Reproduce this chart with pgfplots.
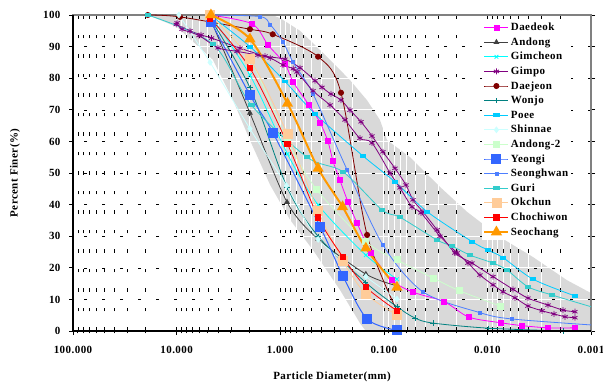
\documentclass[border=0pt]{standalone}
\usepackage{pgfplots}
\pgfplotsset{compat=1.18}
\usepackage{fontspec}
\setmainfont{Liberation Serif}[LetterSpace=4]
\definecolor{cDaedeok}{HTML}{FF00FF}
\definecolor{cAndong}{HTML}{404040}
\definecolor{cGimcheon}{HTML}{00FFFF}
\definecolor{cGimpo}{HTML}{800080}
\definecolor{cDaejeon}{HTML}{800000}
\definecolor{cWonjo}{HTML}{008080}
\definecolor{cPoee}{HTML}{00CCFF}
\definecolor{cShinnae}{HTML}{CCFFFF}
\definecolor{cAndongTwo}{HTML}{CCFFCC}
\definecolor{cYeongi}{HTML}{3366FF}
\definecolor{cSeonghwan}{HTML}{4D7FFF}
\definecolor{cGuri}{HTML}{33CCCC}
\definecolor{cOkchun}{HTML}{FFCC99}
\definecolor{cChochiwon}{HTML}{FF0000}
\definecolor{cSeochang}{HTML}{FF9900}
\definecolor{cBand}{HTML}{D9D9D9}
\begin{document}
\begin{tikzpicture}
\begin{axis}[
  set layers,
  scale only axis, width=518pt, height=316pt,
  xmode=log, x dir=reverse, xmin=0.001, xmax=100,
  ymin=0, ymax=100,
  xtick={100,10,1,0.1,0.01,0.001},
  xticklabels={100.000,10.000,1.000,0.100,0.010,0.001},
  minor xtick={0.002,0.003,0.004,0.005,0.006,0.007,0.008,0.009,0.02,0.03,0.04,0.05,0.06,0.07,0.08,0.09,0.2,0.3,0.4,0.5,0.6,0.7,0.8,0.9,2,3,4,5,6,7,8,9,20,30,40,50,60,70,80,90},
  ytick={0,10,20,30,40,50,60,70,80,90,100},
  yticklabels={0,10,20,30,40,50,60,70,80,90,100},
  xmajorgrids, xminorgrids, ymajorgrids,
  major grid style={white, line width=0.8pt},
  minor grid style={white, line width=0.6pt},
  extra x ticks={0.002,0.003,0.004,0.005,0.006,0.007,0.008,0.009,0.01,0.02,0.03,0.04,0.05,0.06,0.07,0.08,0.09,0.1,0.2,0.3,0.4,0.5,0.6,0.7,0.8,0.9,1,2,3,4,5,6,7,8,9,10,20,30,40,50,60,70,80,90},
  extra x tick labels={},
  extra x tick style={grid=major, major grid style={black, line width=0.45pt, dash pattern=on 3.5pt off 16pt}, major tick length=0pt},
  extra y ticks={10,20,30,40,50,60,70,80,90},
  extra y tick labels={},
  extra y tick style={grid=major, major grid style={black, line width=0.45pt, dash pattern=on 3pt off 15pt}, major tick length=0pt},
  axis line style={gray, line width=1.5pt},
  tick style={black, line width=0.6pt},
  major tick length=4pt, minor tick length=2.5pt,
  tick align=outside, xtick pos=bottom,
  tick label style={font=\bfseries\fontsize{11}{12}\selectfont},
  xticklabel style={yshift=-8pt},
  yticklabel style={xshift=-5pt},
  xlabel={Particle Diameter(mm)},
  ylabel={Percent Finer(\%)},
  every axis x label/.style={at={(axis description cs:0.5,-0.145)}, anchor=center, font=\bfseries\fontsize{11}{12}\selectfont},
  every axis y label/.style={at={(axis description cs:-0.112,0.5)}, rotate=90, anchor=center, font=\bfseries\fontsize{11}{12}\selectfont},
  legend style={at={(0.79,0.987)}, anchor=north west, draw=none, fill=white,
    font=\bfseries\fontsize{11}{12}\selectfont, inner sep=1pt, row sep=0pt,
    nodes={inner sep=1.5pt, text height=8.8pt, text depth=2.8pt}},
  legend cell align=left,
  legend image code/.code={\draw[mark repeat=2,mark phase=2,#1] plot coordinates {(0pt,0pt)(12pt,0pt)(24pt,0pt)};},
  every axis plot/.append style={line width=0.8pt, mark options={solid}},
]
\coordinate (sw) at (rel axis cs:0,0);
\coordinate (ne) at (rel axis cs:1,1);
\coordinate (nw) at (rel axis cs:0,1);
\coordinate (se) at (rel axis cs:1,0);

% envelope band
\addplot[fill=cBand, draw=none, on layer=axis background, forget plot] coordinates {
(19,100)(1.2,100)(1.0,99)(0.644,95)(0.515,92)(0.33,85.8)(0.212,79.4)(0.145,73)(0.109,66.8)(0.093,60.4)(0.0558,55)(0.0287,45.6)(0.0157,37.7)(0.00755,29.7)(0.00363,23.4)(0.00171,16.1)(0.001,12)(0.001,0)(0.149,0)(0.170,2.5)(0.265,13)(0.482,25.6)(0.80,35.1)(1.25,46.2)(1.96,60.4)(2.86,73.1)(4.46,85.8)(9.9,96.2)} -- cycle;

% Daedeok
\addplot[color=cDaedeok, smooth, mark=square*, mark size=2.5pt] coordinates {
(4.75,100)(1.87,97.2)(1.31,90.5)(0.90,84.5)(0.75,78.8)(0.527,71.5)(0.413,66)(0.346,60)(0.309,53.7)(0.265,47.7)(0.222,40.9)(0.182,34.3)(0.133,24.8)(0.0834,16.1)(0.0523,12.3)(0.0262,9.3)(0.0151,4.4)(0.0074,2.6)(0.00463,1.7)(0.0026,1.0)(0.00143,1.0)};
\addlegendentry{Daedeok}
% Andong
\addplot[color=cAndong, smooth, mark=triangle*, mark size=2.6pt] coordinates {
(4.75,99)(1.96,69)(0.86,40.8)(0.431,29.1)(0.149,18)(0.0747,14.3)};
\addlegendentry{Andong}
% Gimcheon
\addplot[color=cGimcheon, smooth, mark=x, mark size=2.6pt] coordinates {
(4.75,100)(1.96,81)(0.85,56)(0.43,39.9)(0.149,24)(0.0747,16.4)};
\addlegendentry{Gimcheon}
% Gimpo
\addplot[color=cGimpo, smooth, mark=asterisk, mark size=3pt] coordinates {
(10.1,97)(7.43,95)(5.81,93.7)(4.6,92.7)(2.44,89.5)(1.40,87)(0.90,86)(0.644,83.3)(0.461,79.2)(0.395,77.1)(0.324,75)(0.259,73.1)(0.212,69.9)(0.166,66.2)(0.130,61.7)(0.102,56.7)(0.078,51.5)(0.0611,46.2)(0.0523,41.5)(0.0419,37.7)(0.0306,32)(0.0206,24.7)(0.0141,21.5)(0.00883,17.2)(0.00566,13.2)(0.00406,10.4)(0.0026,8.2)(0.00186,6.6)(0.00143,6.1)};
\addlegendentry{Gimpo}
% Daejeon
\addplot[color=cDaejeon, smooth, mark=*, mark size=2.6pt] coordinates {
(19,100)(9.27,99.4)(1.96,95.5)(1.18,93.9)(0.431,86.8)(0.259,75.4)(0.145,30.4)(0.0747,6.4)};
\addlegendentry{Daejeon}
% Wonjo
\addplot[color=cWonjo, smooth, mark=+, mark size=2.6pt] coordinates {
(4.75,99)(1.96,77)(0.86,45.6)(0.431,30)(0.149,15.3)(0.0747,7.7)(0.050,4.1)(0.0335,2.5)(0.00986,0.9)(0.00186,0)};
\addlegendentry{Wonjo}
% Poee
\addplot[color=cPoee, smooth, mark=square*, mark size=2.6pt, mark options={yscale=0.55}] coordinates {
(4.75,100)(1.96,90)(0.90,79)(0.461,68.7)(0.159,55.4)(0.078,47.2)(0.0383,37.8)(0.0141,28.3)(0.00986,25.6)(0.00706,23.2)(0.00363,16.4)(0.00143,11.1)};
\addlegendentry{Poee}
% Shinnae
\addplot[color=cShinnae, smooth, mark=diamond*, mark size=2.8pt] coordinates {
(9.5,100)(4.75,85)(1.96,64)(0.87,46)(0.43,29)(0.149,17.2)(0.0747,10.1)};
\addlegendentry{Shinnae}
% Andong-2
\addplot[color=cAndongTwo, smooth, mark=square*, mark size=3pt] coordinates {
(4.75,100)(1.96,86)(0.85,60)(0.445,44.8)(0.149,28.3)(0.0747,22.5)(0.0335,16.8)(0.0188,12.8)(0.00755,7.9)};
\addlegendentry{Andong-2}
% Yeongi
\addplot[color=cYeongi, smooth, line width=1pt, mark=square*, mark size=4.5pt] coordinates {
(4.66,97.9)(1.96,74.7)(1.17,62.6)(0.41,32.9)(0.248,17.4)(0.145,3.8)(0.0747,0.2)};
\addlegendentry{Yeongi}
% Seonghwan
\addplot[color=cSeonghwan, smooth, mark=square*, mark size=1.5pt] coordinates {
(4.75,100)(1.57,99.5)(1.25,97)(0.94,91.5)(0.75,85)(0.482,75)(0.226,51)(0.102,27.2)(0.0419,12.4)(0.0118,5.8)(0.00579,3.8)(0.00098,1.9)};
\addlegendentry{Seonghwan}
% Guri
\addplot[color=cGuri, smooth, mark=square*, mark size=2.6pt, mark options={yscale=0.55}] coordinates {
(19,100)(4.46,90.8)(1.9,71.5)(0.55,55)(0.248,50.4)(0.104,38.3)(0.0698,36)(0.0306,28.8)(0.022,26.9)(0.0147,24)(0.00883,21.5)(0.00647,19.3)(0.00406,14)(0.00238,11.4)(0.00098,7.6)};
\addlegendentry{Guri}
% Okchun
\addplot[color=cOkchun, smooth, mark=square*, mark size=4.5pt] coordinates {
(4.75,100)(1.96,86)(0.85,62.3)(0.431,38)(0.248,22.2)(0.149,11.7)(0.0747,5.1)};
\addlegendentry{Okchun}
% Chochiwon
\addplot[color=cChochiwon, smooth, mark=square*, mark size=2.8pt] coordinates {
(4.75,99)(1.96,83.2)(0.85,59.2)(0.431,36)(0.248,23.4)(0.149,13.9)(0.0747,6.4)};
\addlegendentry{Chochiwon}
% Seochang
\addplot[color=cSeochang, smooth, line width=2pt, mark=triangle*, mark size=4.5pt] coordinates {
(4.66,100)(1.96,92.4)(0.85,72)(0.431,51.5)(0.25,39.3)(0.149,26.2)(0.0747,13.8)};
\addlegendentry{Seochang}
% Gimpo second test
\addplot[color=cGimpo, smooth, mark=asterisk, mark size=3pt, forget plot] coordinates {
(9.9,97.5)(8.87,95.5)(6.08,93.5)(3.98,89.6)(2.61,88.5)(1.64,87.3)(1.25,86.4)(0.94,84.2)(0.75,83)(0.69,82)(0.482,76)(0.330,71.5)(0.237,66.8)(0.170,61)(0.130,59.5)(0.087,50)(0.0698,45.3)(0.0535,39.3)(0.0438,37.4)(0.0287,30)(0.0196,24.7)(0.0154,21.5)(0.0118,17.7)(0.00883,14.6)(0.00706,12.4)(0.00542,10.5)(0.00406,7.9)(0.00297,6.4)(0.00228,5.4)(0.00178,4.5)(0.00143,4.2)};
\end{axis}
\draw[black, line width=1.5pt] (nw) -- (sw) -- (se);
\pgfresetboundingbox
\path ([shift={(-73pt,-52pt)}]sw) rectangle ([shift={(12pt,15pt)}]ne);
\end{tikzpicture}
\end{document}
